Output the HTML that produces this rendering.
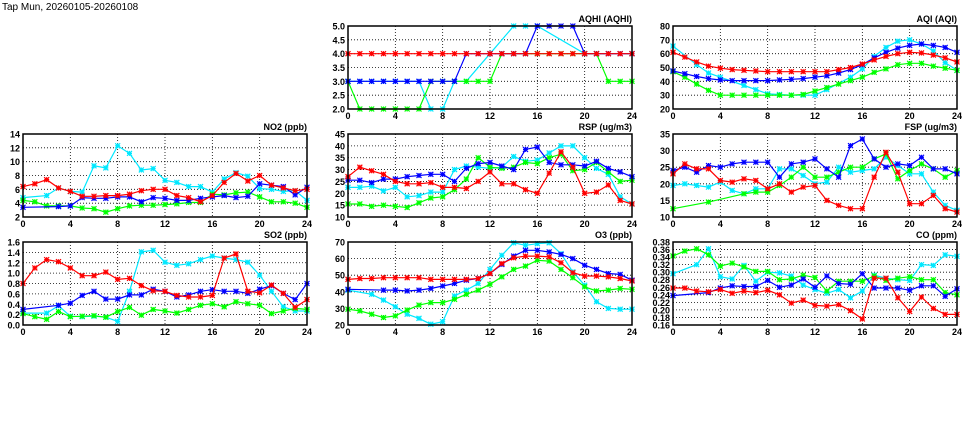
<!DOCTYPE html>
<html><head><meta charset="utf-8">
<style>
body{margin:0;background:#fff;width:975px;height:447px;overflow:hidden}
svg{display:block;font-family:"Liberation Sans",sans-serif}
</style></head>
<body>
<svg id="chart" width="975" height="447" viewBox="0 0 975 447">
<text x="2" y="10" font-size="10">Tap Mun, 20260105-20260108</text>
</svg>
<script>
const hours=[0,1,2,3,4,5,6,7,8,9,10,11,12,13,14,15,16,17,18,19,20,21,22,23,24];
const seriesNames=["cyan","green","blue","red"];
const n=null;
const aqhiCyan=[3,3,3,3,3,3,3,2,2,3,3,n,4,n,5,5,5,n,n,n,4,4,4,4,4];
const aqhiGreen=[3,2,2,2,2,2,2,3,3,3,3,3,3,4,4,4,4,4,4,4,4,4,3,3,3];
const aqhiBlue=[3,3,3,3,3,3,3,3,3,3,4,4,4,4,4,4,5,5,5,5,4,4,4,4,4];
const aqhiRed=[4,4,4,4,4,4,4,4,4,4,4,4,4,4,4,4,4,4,4,4,4,4,4,4,4];
const aqiCyan=[65.5,n,52,46,43,n,37,34,31,30.5,30,30,30,34,n,43,49,58,64.5,69,70,67,62,53.5,48];
const aqiGreen=[47,43,38,33.5,30,30,30,30,30,30,30,30.5,33,35.5,38,40.5,43,46.5,49,52,53,53,51,49.5,48];
const aqiBlue=[47.5,45.5,43.5,42,41,40.5,40.5,40.5,40.5,41,41.5,42,43,44,46,48.5,52,57,61,64,66,67,66,64.5,61];
const aqiRed=[61,57.5,54,51,49.5,48.5,48,47.5,47,47,47,47,47,47,48.5,50,52.5,55.5,58,60,61,60.5,59,57,54];
const no2Cyan=[4.8,n,5.1,6.2,5.7,5.6,9.4,9.1,12.3,11.2,8.8,9.0,7.3,7.0,6.4,6.4,5.6,7.5,8.4,7.9,6.1,6.0,5.7,5.8,4.4];
const no2Green=[4.4,4.2,3.6,3.6,3.6,3.3,3.2,2.7,3.2,3.6,3.7,3.7,3.8,3.9,4.1,4.1,5.3,5.2,5.5,5.6,4.9,4.2,4.2,4.0,3.4];
const no2Blue=[3.4,n,n,3.5,3.6,4.8,4.7,4.7,4.9,4.9,4.2,4.8,4.7,4.4,4.4,4.7,4.9,5.1,4.8,5.0,6.8,6.6,6.4,5.2,6.3];
const no2Red=[6.4,6.8,7.4,6.2,5.7,5.0,5.0,5.1,5.1,5.3,5.8,6.0,6.0,5.1,4.8,4.2,5.1,7.0,8.3,7.2,8.0,6.6,6.2,5.8,6.0];
const rspCyan=[22.5,22.5,23,21,22.5,18.5,19,20.5,20.5,30,31.5,31,30.5,31,35.5,33.5,34,37,40,40,35,30.5,28,18.5,15.5];
const rspGreen=[15.5,15.5,14.5,15,14.5,14,16,18,18.5,21.5,26,35,31,30.5,31,33,32.5,35,36.5,29.5,30,33,29,25,25.5];
const rspBlue=[25.5,25.5,24.5,26,26,27,27.5,28,28,25,30.5,32.5,33,31.5,30,38.5,39.5,33,32,32,31.5,33.5,30.5,29,27];
const rspRed=[27,31,29.5,28,25,24,24,24.5,22.5,22.5,22,25,29,24,24,21.5,20,28.5,37.5,31,20,20.5,23.5,17,15.5];
const fspCyan=[19.5,20,19.5,19,20.5,18,17,18.5,18.5,24.5,24.5,22.5,20,20.5,25,23.5,24,24.5,28,25.5,23,23,17.5,13.5,12];
const fspGreen=[12.5,n,n,14.5,n,n,17,17.5,17.5,19.5,22,25,22,22,23.5,25,25,27.5,29,21.5,24,26,24.5,22,24];
const fspBlue=[24,25,23.5,25.5,25,26,26.5,26.5,26.5,22,26,26.5,27.5,24.5,22,31.5,33.5,27.5,25,26,25.5,28,24.5,24.5,23];
const fspRed=[23,26,24.5,24.5,21,20.5,21.5,21,18.5,20,17.5,19,19.5,15,13.5,12.5,12.5,22,29.5,23.5,14,14,16.5,12.5,11.5];
const so2Cyan=[0.23,n,0.23,0.37,0.17,0.16,0.17,0.15,0.07,0.65,1.41,1.44,1.21,1.15,1.18,1.26,1.33,1.29,1.26,1.21,0.96,0.65,0.35,0.27,0.27];
const so2Green=[0.22,0.16,0.11,0.26,0.16,0.17,0.18,0.15,0.26,0.34,0.19,0.3,0.27,0.23,0.3,0.38,0.41,0.35,0.45,0.41,0.38,0.22,0.27,0.32,0.3];
const so2Blue=[0.3,n,n,0.38,0.42,0.57,0.65,0.5,0.5,0.58,0.58,0.69,0.65,0.54,0.58,0.65,0.68,0.65,0.65,0.61,0.69,0.76,0.61,0.49,0.8];
const so2Red=[0.8,1.1,1.26,1.22,1.1,0.95,0.95,1.02,0.88,0.9,0.76,0.66,0.65,0.57,0.54,0.54,0.57,1.29,1.37,0.65,0.62,0.77,0.61,0.34,0.49];
const o3Cyan=[41,n,38.5,35,31,26.5,24,20.5,22,37.5,41,45,53.5,62,69.5,68,69,69.5,63,52,44,34,30,29.5,29.5];
const o3Green=[29.5,28.5,26.5,24.5,25.5,29,32,33.5,33.5,35.5,38.5,41,44.5,49,53.5,55.5,59,58.5,53.5,48.5,43,40.5,41,42,41.5];
const o3Blue=[41.5,n,n,41,41,40.5,41,42,43.5,45,47,48,51,56.5,61.5,65,65,64,62.5,60,56,53.5,51,50.5,47];
const o3Red=[47.5,48,48,48.5,48.5,48.5,48.5,47.5,47.5,47.5,47.5,48,51,57,60.5,61.5,61.5,61,57.5,51.5,49.5,49.5,49,48,46.5];
const coCyan=[0.296,n,0.320,0.362,0.288,0.282,0.318,0.276,0.300,0.298,0.290,0.266,0.254,0.244,0.254,0.232,0.250,0.292,0.284,0.280,0.278,0.320,0.318,0.346,0.342];
const coGreen=[0.343,0.356,0.362,0.346,0.316,0.324,0.314,0.302,0.302,0.280,0.282,0.292,0.286,0.250,0.276,0.276,0.276,0.290,0.278,0.284,0.288,0.280,0.280,0.246,0.240];
const coBlue=[0.238,n,n,0.246,0.258,0.264,0.262,0.262,0.278,0.260,0.266,0.282,0.260,0.290,0.270,0.268,0.296,0.258,0.258,0.258,0.252,0.264,0.264,0.236,0.256];
const coRed=[0.258,0.258,0.250,0.248,0.254,0.244,0.250,0.246,0.252,0.240,0.218,0.226,0.212,0.210,0.214,0.198,0.176,0.284,0.284,0.232,0.196,0.234,0.204,0.188,0.188];
const xTicks=[0,4,8,12,16,20,24];
const colors={cyan:"#00e8ff",green:"#00ff00",blue:"#0000ff",red:"#ff0000"};
const panels=[
 {id:"aqhi",title:"AQHI (AQHI)",x0:348,x1:632,y0:26,y1:109,min:2,max:5,step:0.5,dec:1,data:[aqhiCyan,aqhiGreen,aqhiBlue,aqhiRed]},
 {id:"aqi",title:"AQI (AQI)",x0:673,x1:957,y0:26,y1:109,min:20,max:80,step:10,dec:0,data:[aqiCyan,aqiGreen,aqiBlue,aqiRed]},
 {id:"no2",title:"NO2 (ppb)",x0:23,x1:307,y0:134,y1:217,min:2,max:14,step:2,dec:0,data:[no2Cyan,no2Green,no2Blue,no2Red]},
 {id:"rsp",title:"RSP (ug/m3)",x0:348,x1:632,y0:134,y1:217,min:10,max:45,step:5,dec:0,data:[rspCyan,rspGreen,rspBlue,rspRed]},
 {id:"fsp",title:"FSP (ug/m3)",x0:673,x1:957,y0:134,y1:217,min:10,max:35,step:5,dec:0,data:[fspCyan,fspGreen,fspBlue,fspRed]},
 {id:"so2",title:"SO2 (ppb)",x0:23,x1:307,y0:242,y1:325,min:0,max:1.6,step:0.2,dec:1,data:[so2Cyan,so2Green,so2Blue,so2Red]},
 {id:"o3",title:"O3 (ppb)",x0:348,x1:632,y0:242,y1:325,min:20,max:70,step:10,dec:0,data:[o3Cyan,o3Green,o3Blue,o3Red]},
 {id:"co",title:"CO (ppm)",x0:673,x1:957,y0:242,y1:325,min:0.16,max:0.38,step:0.02,dec:2,data:[coCyan,coGreen,coBlue,coRed]}
];
const svg=document.getElementById("chart");
const NS="http://www.w3.org/2000/svg";
function mk(tag,attrs,parent){const e=document.createElementNS(NS,tag);for(const k in attrs)e.setAttribute(k,attrs[k]);(parent||svg).appendChild(e);return e;}
panels.forEach(p=>{
 const g=mk("g",{});
 
 
 const xs=h=>p.x0+(h/24)*(p.x1-p.x0);
 const ys=v=>p.y1-(v-p.min)/(p.max-p.min)*(p.y1-p.y0);
 const nT=Math.round((p.max-p.min)/p.step);
 for(let i=0;i<=nT;i++){
  const v=p.min+i*p.step,y=ys(v);
  if(i>0&&i<nT){const l=mk("line",{x1:p.x0,x2:p.x1,y1:y,y2:y,stroke:"#000","stroke-width":0.8,"stroke-dasharray":"1,2"},g);
   }
  const t=mk("text",{x:p.x0-3,y:y+3.5,"font-size":9,"font-weight":"bold","text-anchor":"end"},g);
  t.textContent=v.toFixed(p.dec);
  
 }
 xTicks.forEach((h,i)=>{
  const x=xs(h);
  if(i>0&&i<xTicks.length-1){const l=mk("line",{x1:x,x2:x,y1:p.y0,y2:p.y1,stroke:"#000","stroke-width":0.8,"stroke-dasharray":"1,2"},g);
   }
  const t=mk("text",{x:x,y:p.y1+10,"font-size":9,"font-weight":"bold","text-anchor":"middle"},g);
  t.textContent=h;
  
 });
 const tt=mk("text",{x:p.x1,y:p.y0-4,"font-size":9,"font-weight":"bold","text-anchor":"end"},g);
 tt.textContent=p.title;
 
 p.data.forEach((arr,si)=>{
  const c=colors[seriesNames[si]];
  const pts=[];
  arr.forEach((v,i)=>{if(v!==null)pts.push([xs(hours[i]),ys(v)]);});
  const pl=mk("polyline",{points:pts.map(q=>q[0].toFixed(1)+","+q[1].toFixed(1)).join(" "),fill:"none",stroke:c,"stroke-width":1.2},g);
  
  
  pts.forEach(q=>{
   const r=2.5,[x,y]=q;
   const m=mk("path",{d:`M${x-r},${y}H${x+r}M${x},${y-r}V${y+r}M${x-r},${y-r}L${x+r},${y+r}M${x-r},${y+r}L${x+r},${y-r}`,stroke:c,"stroke-width":1.2},g);
   
   
  });
 });
 const fr=mk("rect",{x:p.x0,y:p.y0,width:p.x1-p.x0,height:p.y1-p.y0,fill:"none",stroke:"#000","stroke-width":1.5},g);
 
 
});
</script>
</body></html>
